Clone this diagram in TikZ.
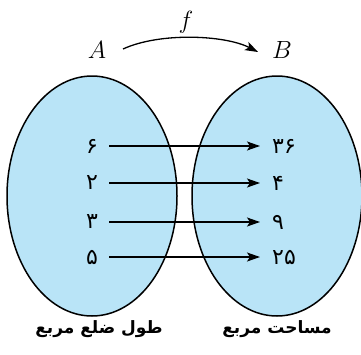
\documentclass[tikz,border=0pt]{standalone}
\usepackage{fontspec}
\usetikzlibrary{arrows.meta,shapes.geometric}
\TeXXeTstate=1
\newfontfamily\arabicfont[Script=Arabic]{DejaVu Sans}
\definecolor{setblue}{RGB}{185,228,247}
\tikzset{
  setshape/.style={ellipse,draw=black,line width=1.5pt,fill=setblue,minimum width=170pt,minimum height=240pt,inner sep=0pt},
  mapto/.style={-{Stealth[length=13pt,width=9pt,inset=3pt]},line width=1.3pt},
  lnum/.style={minimum width=34pt,inner sep=0pt,font=\arabicfont\fontsize{22}{26}\selectfont},
  rnum/.style={anchor=west,inner xsep=12pt,inner ysep=0pt,font=\arabicfont\fontsize{22}{26}\selectfont},
  setname/.style={font=\fontsize{26}{30}\selectfont},
  caption/.style={font=\arabicfont\bfseries\fontsize{17}{20}\selectfont}
}
\begin{document}
\begin{tikzpicture}[x=1pt,y=-1pt]
\useasboundingbox (0,0) rectangle (361,354);
\node[setshape] (SA) at (92,196) {};
\node[setshape] (SB) at (277,196) {};
\node[setname] (A) at (97,50) {$A$};
\node[setname] (B) at (282,50) {$B$};
\node[setname] (f) at (186,22) {$f$};
\coordinate (fs) at (123,49);
\coordinate (fe) at (258,52);
\draw[mapto] (fs) .. controls (160,32) and (225,35) .. (fe);
\node[lnum] (l1) at (92,146) {۶};
\node[lnum] (l2) at (92,183) {۲};
\node[lnum] (l3) at (92,222) {۳};
\node[lnum] (l4) at (92,257) {۵};
\node[rnum] (r1) at (260,146) {۳۶};
\node[rnum] (r2) at (260,183) {۴};
\node[rnum] (r3) at (260,222) {۹};
\node[rnum] (r4) at (260,257) {۲۵};
\draw[mapto] (l1) -- (r1);
\draw[mapto] (l2) -- (r2);
\draw[mapto] (l3) -- (r3);
\draw[mapto] (l4) -- (r4);
\node[caption] (cA) at (99,329) {\beginR طول ضلع مربع\endR};
\node[caption] (cB) at (277,329) {\beginR مساحت مربع\endR};
\end{tikzpicture}
\end{document}
